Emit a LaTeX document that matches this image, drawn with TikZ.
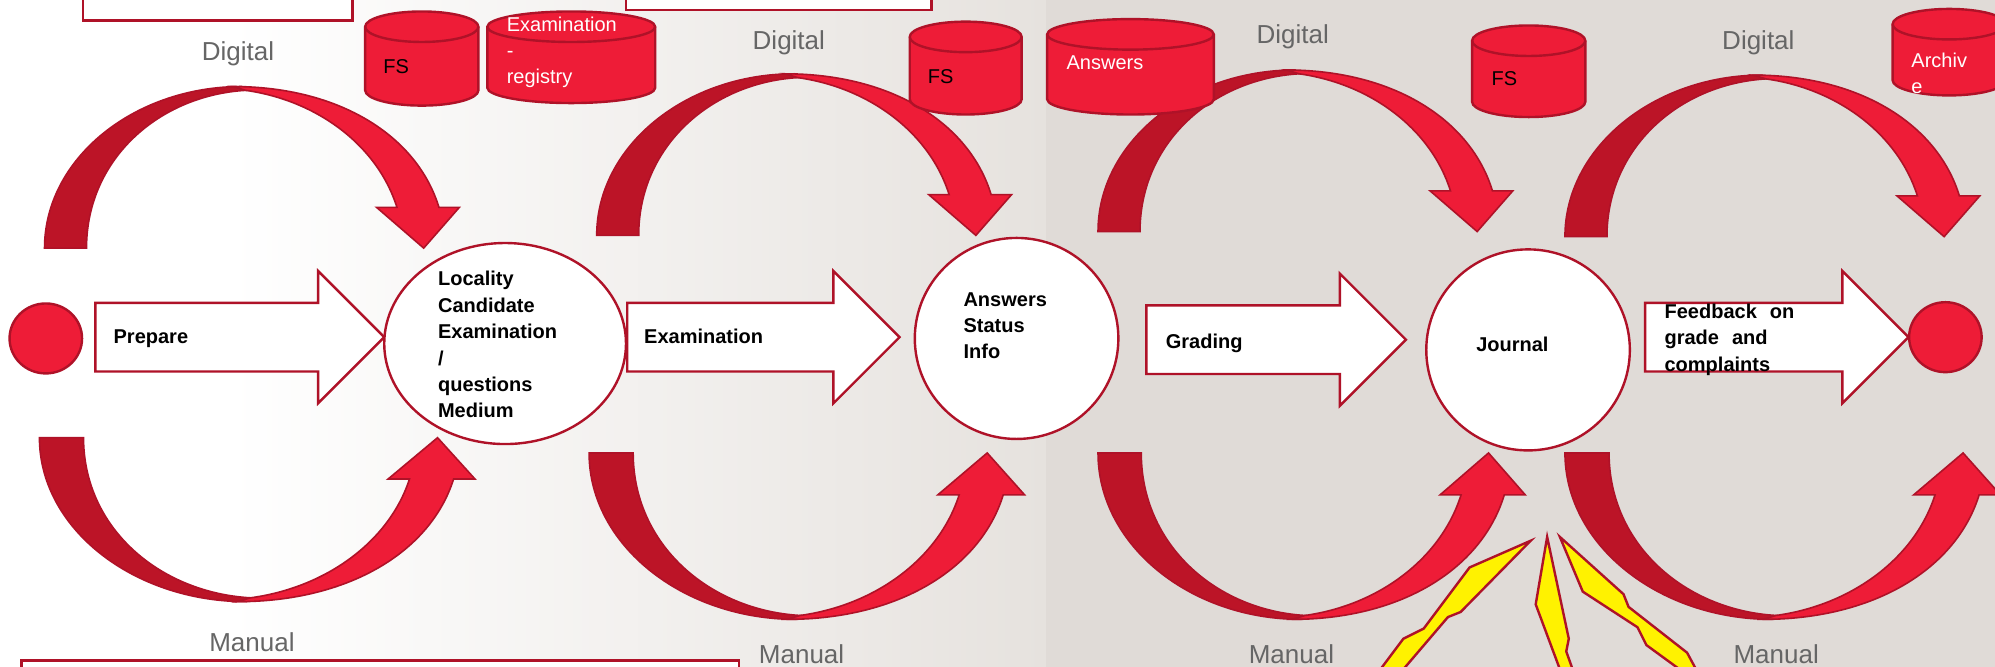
\documentclass[tikz,border=0pt]{standalone}
\usepackage{fontspec}
\setmainfont{Liberation Sans}
\usetikzlibrary{shapes.geometric,shapes.arrows}

\definecolor{flowred}{HTML}{EE1C37}
\definecolor{flowdark}{HTML}{BC1427}
\definecolor{flowline}{HTML}{AF1228}
\definecolor{wallend}{HTML}{E6E2DE}
\definecolor{wall}{HTML}{E0DBD7}
\definecolor{labelgrey}{HTML}{666666}
\newcommand{\upx}{0.6361pt}
\newcommand{\widewords}{\spaceskip 6.5pt\relax}

\tikzset{
    flowarc/.pic={
        \fill[flowdark, draw=flowline, line width=0.8pt] (0,0) .. controls (0,-70) and (70,-127) .. (155,-127) -- (158,-124) .. controls (90,-120) and (33,-70) .. (33,0) -- cycle;
        \fill[flowred, draw=flowline, line width=0.8pt] (148,-127) .. controls (232,-127) and (293,-88) .. (310,-32) -- (326,-32) -- (298,0) -- (261,-32) -- (277,-32) .. controls (262,-80) and (215,-116) .. (158,-124) -- cycle;
    },
    pics/dbstore/.style 2 args={code={
        \fill[flowred, draw=flowline, line width=1.2pt] ({-#1/2},12) -- ({-#1/2},{#2-12}) .. controls ({-#1/2},{#2-5.4}) and ({-0.276*#1},#2) .. (0,#2) .. controls ({0.276*#1},#2) and ({#1/2},{#2-5.4}) .. ({#1/2},{#2-12}) -- ({#1/2},12) .. controls ({#1/2},5.4) and ({0.276*#1},0) .. (0,0) .. controls ({-0.276*#1},0) and ({-#1/2},5.4) .. ({-#1/2},12) -- cycle;
        \draw[flowline, line width=1.2pt] ({-#1/2},12) .. controls ({-#1/2},18.6) and ({-0.276*#1},24) .. (0,24) .. controls ({0.276*#1},24) and ({#1/2},18.6) .. ({#1/2},12);
    }},
    boxline/.style={draw=flowline, line width=1.2pt},
    blockarrow/.style={single arrow, boxline, fill=white, single arrow head extend=25*\upx, single arrow tip angle=90, text height=26*\upx, text depth=26*\upx, minimum width=102*\upx, minimum height=#1*\upx, inner sep=0pt, outer sep=0pt, anchor=tail},
    statebox/.style={ellipse, boxline, fill=white, inner sep=0pt, outer sep=0pt},
    dotnode/.style={ellipse, boxline, fill=flowred, inner sep=0pt, outer sep=0pt, minimum width=57*\upx, minimum height=55*\upx},
    notebox/.style={rectangle, boxline, fill=white, inner sep=0pt, outer sep=0pt},
    modelabel/.style={text=labelgrey, font=\fontsize{13}{15}\selectfont},
    steplabel/.style={align=left, anchor=west, inner sep=0pt, font=\fontsize{10}{13.2}\selectfont\bfseries},
    dblabel/.style={align=left, anchor=west, inner sep=0pt, text=white, font=\fontsize{10}{13}\selectfont},
    fslabel/.style={anchor=west, inner sep=0pt, text=black, font=\fontsize{10}{13}\selectfont},
    bolt/.style={fill=yellow, draw=flowline, line width=1.2pt, line join=miter}
}

\begin{document}
\begin{tikzpicture}[x=\upx, y=-\upx]
    \useasboundingbox (0,0) rectangle (1568,524);
    \clip (0,0) rectangle (1568,524);

    % Background
    \fill[white] (0,0) rectangle (181,524);
    \fill[left color=white, right color=wallend, draw=none] (180,0) rectangle (823,524);
    \fill[wall] (822,0) rectangle (1568,524);

    % Note boxes
    \node[notebox, minimum width=212*\upx, minimum height=60*\upx] (noteleft) at (171,-14) {};
    \node[notebox, minimum width=240*\upx, minimum height=60*\upx] (notemid) at (612,-22) {};
    \node[notebox, minimum width=564*\upx, minimum height=60*\upx] (notelow) at (299,549) {};

    % Digital arcs
    \pic at (35,195) {flowarc};
    \pic at (469,185) {flowarc};
    \pic at (863,182) {flowarc};
    \pic at (1230,186) {flowarc};

    % Manual arcs
    \pic[xscale=1.05, yscale=-1.015] at (31,344) {flowarc};
    \pic[xscale=1.05, yscale=-1.03] at (463,356) {flowarc};
    \pic[xscale=1.03, yscale=-1.03] at (863,356) {flowarc};
    \pic[xscale=1.05, yscale=-1.03] at (1230,356) {flowarc};

    % Stores
    \pic at (331.5,9) {dbstore={89}{74}};
    \pic at (449,9) {dbstore={132}{72}};
    \pic at (759,17) {dbstore={88}{73}};
    \pic at (888.5,15) {dbstore={131}{75}};
    \pic at (1201.5,20) {dbstore={89}{72}};
    \pic at (1532,7) {dbstore={89}{68}};

    \node[fslabel] (fsonetext) at (301,52) {FS};
    \node[dblabel] (registrytext) at (398,41.5) {Examination\\-\\registry};
    \node[fslabel] (fstwotext) at (729,60) {FS};
    \node[dblabel] (answerstext) at (838,49) {Answers};
    \node[fslabel] (fsthreetext) at (1172,62) {FS};
    \node[dblabel] (archivetext) at (1502,57.5) {Archiv\\e};

    % Block arrows
    \node[blockarrow=227] (prepare) at (75,265) {};
    \node[blockarrow=214] (examination) at (493,265) {};
    \node[blockarrow=204] (grading) at (901,267) {};
    \node[blockarrow=207] (feedback) at (1293,265) {};

    % States
    \node[dotnode] (start) at (36,266) {};
    \node[dotnode] (stop) at (1529,265) {};
    \node[statebox, minimum width=190*\upx, minimum height=158*\upx] (locality) at (397,270) {};
    \node[statebox, minimum width=160*\upx, minimum height=158*\upx] (answers) at (799,266) {};
    \node[statebox, minimum width=160*\upx, minimum height=158*\upx] (journal) at (1201,275) {};

    % Step labels
    \node[steplabel] (preparetext) at (89,266) {Prepare};
    \node[steplabel] (examinationtext) at (506,264) {Examination};
    \node[steplabel] (gradingtext) at (916,270) {Grading};
    \node[steplabel, font=\fontsize{10}{13.2}\selectfont\bfseries\widewords] (feedbacktext) at (1308,267) {Feedback on\\grade and\\complaints};
    \node[steplabel] (localitytext) at (344,271) {Locality\\Candidate\\Examination\\/\\questions\\Medium};
    \node[steplabel] (answerstatus) at (757,256) {Answers\\Status\\Info};
    \node[steplabel] (journaltext) at (1160,271) {Journal};

    % Mode labels
    \node[modelabel] (digitalone) at (187,42) {Digital};
    \node[modelabel] (digitaltwo) at (620,34) {Digital};
    \node[modelabel] (digitalthree) at (1016,29) {Digital};
    \node[modelabel] (digitalfour) at (1382,34) {Digital};
    \node[modelabel] (manualone) at (198,505) {Manual};
    \node[modelabel] (manualtwo) at (630,514) {Manual};
    \node[modelabel] (manualthree) at (1015,514) {Manual};
    \node[modelabel] (manualfour) at (1396,514) {Manual};

    % Bolts
    \draw[bolt] (1203,425) -- (1155,446) -- (1119,494) -- (1103,502) -- (1085,526) -- (1103,526) -- (1138,485) -- (1148,481) -- cycle;
    \draw[bolt] (1216,422) -- (1207,475) -- (1226,526) -- (1236,526) -- (1231,512) -- (1233,502) -- cycle;
    \draw[bolt] (1226,422) -- (1244,465) -- (1287,493) -- (1294,507) -- (1320,526) -- (1333,526) -- (1326,513) -- (1280,477) -- (1276,467) -- cycle;
\end{tikzpicture}
\end{document}
